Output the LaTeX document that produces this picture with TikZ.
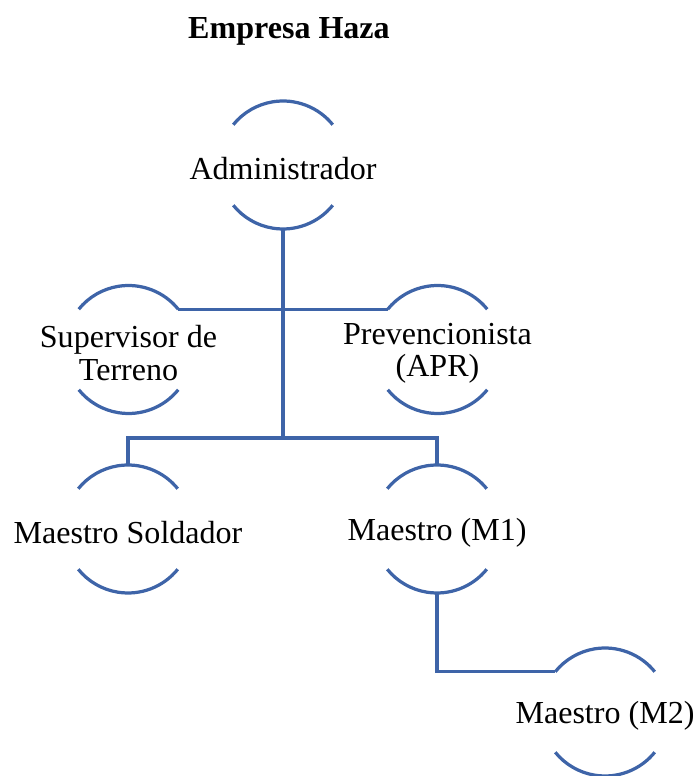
\documentclass[tikz,border=0pt]{standalone}
\usepackage{fontspec}
\setmainfont{Liberation Serif}
\definecolor{azulorg}{HTML}{3E64A8}

\begin{document}
\begin{tikzpicture}[every node/.style={font = \fontsize{22.8pt}{23pt}\selectfont}, rol/.style={circle, minimum size = 3.2cm, inner sep = 0pt, outer sep = 0pt}, every label/.style={align = center, inner sep = 0pt, yshift = -0.09cm, font = \fontsize{22.8pt}{23pt}\selectfont}, linea/.style={draw = azulorg, line width = 2.3pt}]

  \useasboundingbox (0, 0) rectangle (17.45, 19.4);

  \node[font = \fontsize{22.8pt}{23pt}\selectfont\bfseries] (titulo) at (7.225, 18.62) { Empresa Haza };

  \node[rol, label = {center:Administrador}] (adm) at (7.075, 15.275) {};

  \node[rol, label = {center:Supervisor de\\Terreno}] (sup) at (3.2125, 10.6625) {};
  \node[rol, label = {center:Prevencionista\\(APR)}] (apr) at (10.9375, 10.6625) {};

  \node[rol, label = {center:Maestro Soldador}] (sol) at (3.2, 6.175) {};
  \node[rol, label = {center:Maestro (M1)}] (m1) at (10.925, 6.175) {};

  \node[rol, label = {center:Maestro (M2)}] (m2) at (15.125, 1.6) {};

  % arcos de cada cargo
  \foreach \n in {adm, sup, apr, sol, m1, m2} {
    \draw[linea] (\n.39) arc (39:141:1.6);
    \draw[linea] (\n.-39) arc (-39:-141:1.6);
  }

  % lineas de mando
  \coordinate (bus) at (7.075, 8.45);
  \draw[linea] (adm.south) -- (bus);
  \draw[linea] (sup.39) -- (apr.141);
  \draw[linea] (sol.north) |- (bus) -| (m1.north);
  \draw[linea] (m1.south) |- (m2.141);

\end{tikzpicture}
\end{document}
